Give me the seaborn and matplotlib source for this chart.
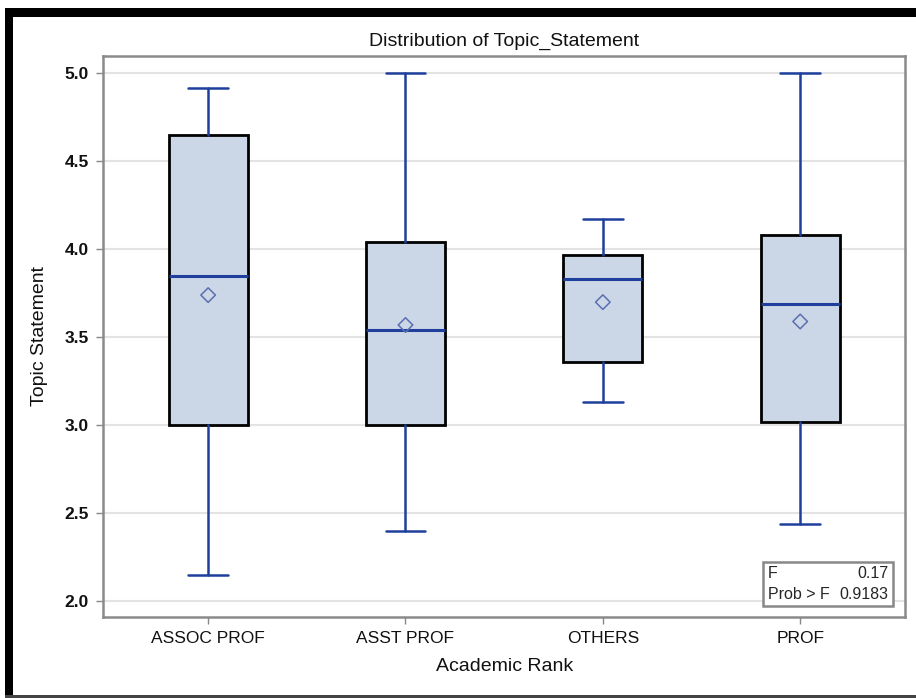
import seaborn as sns
import matplotlib.pyplot as plt
import matplotlib
import matplotlib.patches as mpatches
import pandas as pd

matplotlib.use('Agg')

# summary statistics
ranks = ["ASSOC PROF", "ASST PROF", "OTHERS", "PROF"]
whisker_low = [2.15, 2.40, 3.13, 2.44]
q1 = [3.00, 3.00, 3.36, 3.02]
median = [3.85, 3.54, 3.83, 3.69]
q3 = [4.65, 4.04, 3.97, 4.08]
whisker_high = [4.92, 5.00, 4.17, 5.00]
mean = [3.74, 3.57, 3.70, 3.59]

f_value = "0.17"
prob_f = "0.9183"

BOX_FILL = "#cbd6e6"
LINE_BLUE = "#1f3f9c"
MEAN_BLUE = "#5a6fb0"

sns.set_theme(style="white")
plt.rcParams['font.family'] = ['Liberation Sans', 'DejaVu Sans']

fig = plt.figure(figsize=(9.16, 6.98), dpi=100)
ax = fig.add_axes([0.1124, 0.116, 0.876, 0.804])

stats = []
for i, r in enumerate(ranks):
    stats.append({"label": r, "whislo": whisker_low[i], "q1": q1[i], "med": median[i],
                  "q3": q3[i], "whishi": whisker_high[i], "mean": mean[i], "fliers": []})

ax.bxp(stats, positions=range(len(ranks)), widths=0.4, patch_artist=True,
       showmeans=False, showfliers=False,
       boxprops=dict(facecolor=BOX_FILL, edgecolor="black", linewidth=2),
       medianprops=dict(color=LINE_BLUE, linewidth=2.2),
       whiskerprops=dict(color=LINE_BLUE, linewidth=1.8),
       capprops=dict(color=LINE_BLUE, linewidth=1.8),
       capwidths=0.2, zorder=3)

df_mean = pd.DataFrame({"rank": range(len(ranks)), "mean": mean})
sns.scatterplot(data=df_mean, x="rank", y="mean", marker="D", s=55,
                facecolor="none", edgecolor=MEAN_BLUE, linewidth=1.1, ax=ax, zorder=4)

yticks = [2.0, 2.5, 3.0, 3.5, 4.0, 4.5, 5.0]
ax.set_xlim(-0.533, 3.533)
ax.set_ylim(1.91, 5.10)
ax.set_yticks(yticks)
ax.set_yticklabels([f"{v:.1f}" for v in yticks])
ax.set_xticks(range(len(ranks)))
ax.set_xticklabels(ranks)
ax.yaxis.grid(True, color="#e3e3e3", linewidth=1.5, zorder=0)
ax.set_axisbelow(True)
ax.tick_params(axis="both", which="both", length=5, width=1, color="#888888",
               labelsize=12.5, direction="out", left=True, bottom=True, pad=5,
               labelcolor="#111111")
for t in ax.get_yticklabels():
    t.set_fontweight("bold")

for s in ax.spines.values():
    s.set_color("#8a8a8a")
    s.set_linewidth(1.8)

ax.set_xlabel("Academic Rank", fontsize=14, labelpad=9, color="#111111")
ax.set_ylabel("Topic Statement", fontsize=14, labelpad=12, color="#111111")
ax.set_title("Distribution of Topic_Statement", fontsize=14, pad=7, color="#111111")

# stats inset box
ax.add_patch(mpatches.Rectangle((0.823, 0.0198), 0.161, 0.0775, transform=ax.transAxes,
                                facecolor="white", edgecolor="#888888", linewidth=1.8, zorder=5))
ax.text(0.829, 0.078, "F", transform=ax.transAxes, fontsize=11.5, va="center", ha="left", zorder=6)
ax.text(0.979, 0.078, f_value, transform=ax.transAxes, fontsize=11.5, va="center", ha="right", zorder=6)
ax.text(0.829, 0.041, "Prob > F", transform=ax.transAxes, fontsize=11.5, va="center", ha="left", zorder=6)
ax.text(0.979, 0.041, prob_f, transform=ax.transAxes, fontsize=11.5, va="center", ha="right", zorder=6)

# outer page frame
fig.add_artist(mpatches.Rectangle((0.0055, 0.0), 0.0087, 0.9885, transform=fig.transFigure,
                                  facecolor="black", edgecolor="none"))
fig.add_artist(mpatches.Rectangle((0.0055, 0.976), 0.995, 0.0125, transform=fig.transFigure,
                                  facecolor="black", edgecolor="none"))
fig.add_artist(mpatches.Rectangle((0.0055, 0.0), 0.995, 0.005, transform=fig.transFigure,
                                  facecolor="#444444", edgecolor="none"))

fig.savefig("out.png", dpi=100)
